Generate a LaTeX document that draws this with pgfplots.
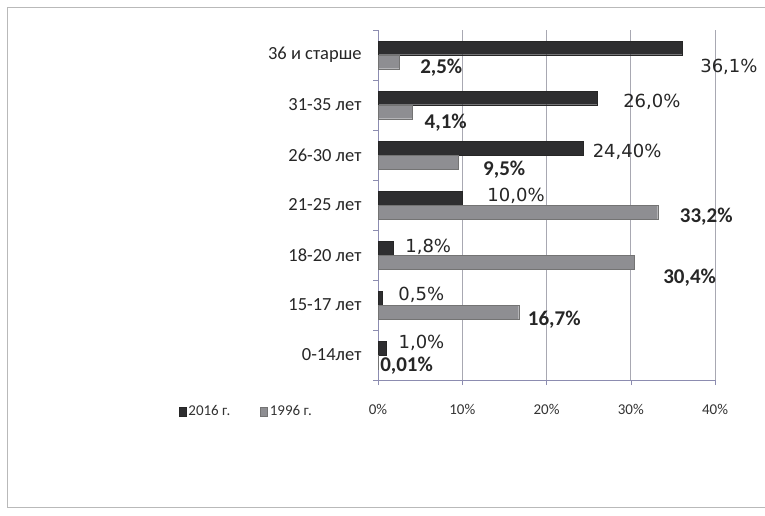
\documentclass[border=0pt]{standalone}
\usepackage{fontspec}
\setmainfont{Carlito}
\newfontfamily\dejavu{DejaVu Sans}
\usepackage{pgfplots}
\usepackage{pgfplotstable}
\pgfplotsset{compat=1.18}
\definecolor{darkbar}{HTML}{2E2E30}
\definecolor{graybar}{HTML}{8E8E92}
\definecolor{gridc}{HTML}{A8A8B2}
\definecolor{axisc}{HTML}{8C8CB0}

\pgfplotstableread{
x y lab dx dy
36.1 6 {36,1} 18 -19
26.0 5 {26,0} 26 -4
24.4 4 {24,40} 9 -4
10.0 3 {10,0} 25 2
1.8 2 {1,8} 12 1
0.5 1 {0,5} 16 3
1.0 0 {1,0} 12 5
}\tabnew

\pgfplotstableread{
x y lab dx dy
2.5 6 {2,5} 21 -6
4.1 5 {4,1} 12 -11
9.5 4 {9,5} 25 -8
33.2 3 {33,2} 22 -5
30.4 2 {30,4} 29 -16
16.7 1 {16,7} 9 -8
0.01 0 {0,01} 2 -4
}\tabold

\begin{document}
\begin{tikzpicture}[x=1pt,y=1pt]
\useasboundingbox (0,0) rectangle (765,515);
\fill[white] (0,0) rectangle (765,515);
\draw[gray!55, line width=0.8pt] (7,8) rectangle (800,508);
\begin{axis}[
  at={(378pt,135pt)}, anchor=south west,
  scale only axis, width=337pt, height=350pt,
  xbar, bar width=13.5pt,
  xmin=0, xmax=40, ymin=-0.5, ymax=6.5,
  xtick={0,10,20,30,40},
  xticklabels={0\%,10\%,20\%,30\%,40\%},
  ytick={0,1,2,3,4,5,6},
  yticklabels={0-14лет,15-17 лет,18-20 лет,21-25 лет,26-30 лет,31-35 лет,36 и старше},
  major y tick style={draw=none},
  minor ytick={-0.5,0.5,1.5,2.5,3.5,4.5,5.5,6.5},
  minor tick length=5pt,
  minor y tick style={axisc},
  major tick length=5pt,
  tick align=outside,
  x tick style={axisc},
  axis x line*=bottom, axis y line*=left,
  axis line style={axisc, line width=0.8pt},
  xmajorgrids, grid style={gridc, line width=0.7pt},
  xticklabel style={font=\fontsize{15}{18}\selectfont, text=black!80, yshift=-16pt},
  yticklabel style={font=\fontsize{18.5}{21}\selectfont, text=black!85, xshift=-8pt},
  legend style={at={(-0.6,-0.09)}, anchor=west, draw=none, fill=none,
    legend columns=2, font=\fontsize{15}{17}\selectfont, text=black!80,
    /tikz/every even column/.append style={column sep=28pt}},
  legend image code/.code={\fill[#1] (0pt,-4.5pt) rectangle (7pt,4.5pt);},
  point meta=explicit symbolic,
  nodes near coords={\pgfplotspointmeta\%},
  clip=false,
]
\addplot[fill=darkbar, draw=black!85, bar shift=7pt,
  visualization depends on={\thisrow{dx} \as \dx},
  visualization depends on={\thisrow{dy} \as \dy},
  nodes near coords style={anchor=west, inner sep=0pt, xshift=\dx pt, yshift=\dy pt,
    font=\dejavu\fontsize{18}{21}\selectfont, text=black!85}]
  table[x=x, y=y, meta=lab] {\tabnew};
\addlegendentry{2016 г.}
\addplot[fill=graybar, draw=black!55, bar shift=-7pt,
  visualization depends on={\thisrow{dx} \as \dx},
  visualization depends on={\thisrow{dy} \as \dy},
  nodes near coords style={anchor=west, inner sep=0pt, xshift=\dx pt, yshift=\dy pt,
    font=\bfseries\fontsize{21}{24}\selectfont, text=black!85}]
  table[x=x, y=y, meta=lab] {\tabold};
\addlegendentry{1996 г.}
\end{axis}
\end{tikzpicture}
\end{document}
